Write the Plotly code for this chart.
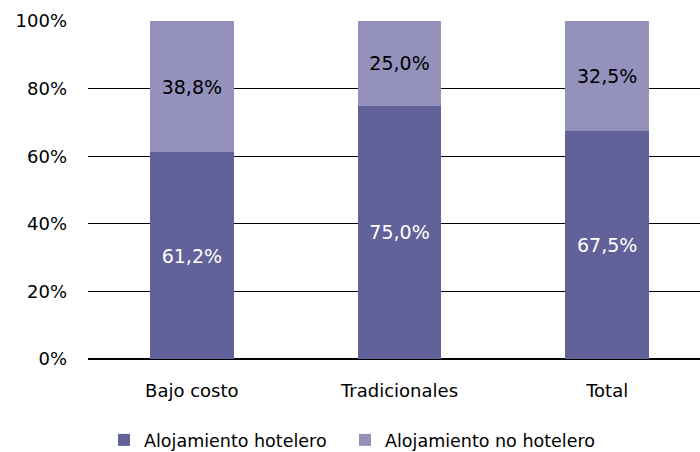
import plotly.graph_objects as go

categories = ["Bajo costo", "Tradicionales", "Total"]
hotelero = [61.2, 75.0, 67.5]
no_hotelero = [38.8, 25.0, 32.5]
series_names = ["Alojamiento hotelero", "Alojamiento no hotelero"]
tick_vals = [0, 20, 40, 60, 80, 100]
tick_text = ["0%", "20%", "40%", "60%", "80%", "100%"]

def fmt(v):
    return f"{v:.1f}%".replace(".", ",")

font_family = "DejaVu Sans, Verdana, sans-serif"

fig = go.Figure()
fig.add_trace(go.Bar(
    x=categories, y=hotelero, name=series_names[0], legend="legend",
    marker=dict(color="#626199", line=dict(width=0)),
    text=[fmt(v) for v in hotelero], textposition="inside", insidetextanchor="middle",
    textfont=dict(color="white", size=19, family=font_family), width=0.404,
))
fig.add_trace(go.Bar(
    x=categories, y=no_hotelero, name=series_names[1], legend="legend2",
    marker=dict(color="#9491bd", line=dict(width=0)),
    text=[fmt(v) for v in no_hotelero], textposition="inside", insidetextanchor="middle",
    textfont=dict(color="black", size=19, family=font_family), width=0.404,
))
leg_common = dict(orientation="h", xanchor="left", xref="container",
                  yref="paper", y=-(440 - 359) / 338, yanchor="middle",
                  font=dict(size=17.5), itemwidth=30, bgcolor="rgba(0,0,0,0)")
fig.update_layout(
    barmode="stack",
    width=700, height=452,
    margin=dict(l=88, r=0, t=21, b=93, autoexpand=False),
    paper_bgcolor="white", plot_bgcolor="white",
    font=dict(family=font_family, size=18, color="black"),
    showlegend=True,
    legend=dict(x=104 / 700, **leg_common),
    legend2=dict(x=345 / 700, **leg_common),
    uniformtext=dict(mode="show", minsize=10),
)
fig.update_xaxes(range=[-0.5, 2.447], showline=False, ticks="", showgrid=False,
                 tickfont=dict(size=18), ticklabelstandoff=19, automargin=False)
fig.update_yaxes(range=[0, 100], tickvals=tick_vals, ticktext=tick_text,
                 showgrid=True, gridcolor="black", gridwidth=1, zeroline=True,
                 zerolinecolor="black", zerolinewidth=1.5, showline=False, ticks="",
                 ticklabelstandoff=20, tickfont=dict(size=18), automargin=False)
fig.write_html("out.html", config={"displayModeBar": False},
               post_script="document.body.style.margin='0';document.body.style.overflow='hidden';")
